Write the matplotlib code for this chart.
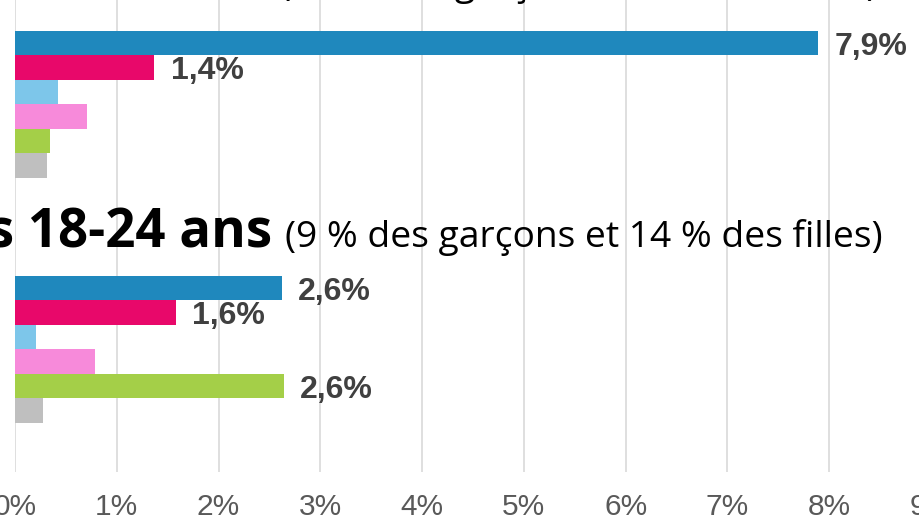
import matplotlib
matplotlib.use('Agg')
import matplotlib.pyplot as plt

# Data (percent), one value per series, two age groups
series = ['s1', 's2', 's3', 's4', 's5', 's6']
colors = ['#1F88BD', '#E8086A', '#7DC6EA', '#F78ADA', '#A4CF48', '#BFBFBF']
values_12_17 = [7.89, 1.37, 0.42, 0.71, 0.34, 0.31]
values_18_24 = [2.62, 1.58, 0.21, 0.79, 2.64, 0.28]
group_start = [0, 10]          # slot where each group begins
ticks = list(range(0, 10))
tick_labels = [f'{t}%' for t in ticks]

W, H = 919, 523
fig = plt.figure(figsize=(W / 100, H / 100), dpi=100, facecolor='white')


def px(x, y):
    return x / W, 1 - y / H


# axes: 0% at x=15 px, 9% at x=931 px (beyond right edge), bottom at y=472 px
ax = fig.add_axes([15 / W, 1 - 472 / H, (931 - 15) / W, 472 / H])
ax.set_xlim(0, 9)
ax.set_ylim(18, -31 / 24.5)

for start, vals in zip(group_start, [values_12_17, values_18_24]):
    ys = [start + i + 0.5 for i in range(len(vals))]
    ax.barh(ys, vals, height=1.0, color=colors, edgecolor='none', zorder=2)
    for y, v in zip(ys, vals):
        if v >= 1:
            ax.annotate(f'{v:.1f}%'.replace('.', ','), (v, y), xytext=(12, -2.5),
                        textcoords='offset points', ha='left', va='center',
                        fontsize=23, fontweight='bold', color='#404040',
                        family='Liberation Sans')

ax.set_xticks(ticks)
ax.set_xticklabels(tick_labels, family='Liberation Sans')
ax.set_yticks([])
ax.tick_params(axis='x', length=0, pad=15, labelsize=21.5, labelcolor='#595959')
ax.grid(axis='x', color='#D9D9D9', linewidth=1.2, zorder=0)
ax.set_axisbelow(True)
for s in ax.spines.values():
    s.set_visible(False)

# group titles
titles = [('Les 12-17 ans', '(12 % des garçons et 9 % des filles)', 267, 280, -5),
          ('Les 18-24 ans', '(9 % des garçons et 14 % des filles)', 272, 285, 247)]
for bold, rest, xb, xr, yb in titles:
    fig.text(*px(xb, yb), bold, ha='right', va='baseline', fontsize=38,
             fontweight='bold', family='Open Sans', color='black')
    fig.text(*px(xr, yb), rest, ha='left', va='baseline', fontsize=26.8,
             family='Open Sans', color='black')

fig.savefig('out.png', dpi=100, facecolor='white')
plt.close(fig)
